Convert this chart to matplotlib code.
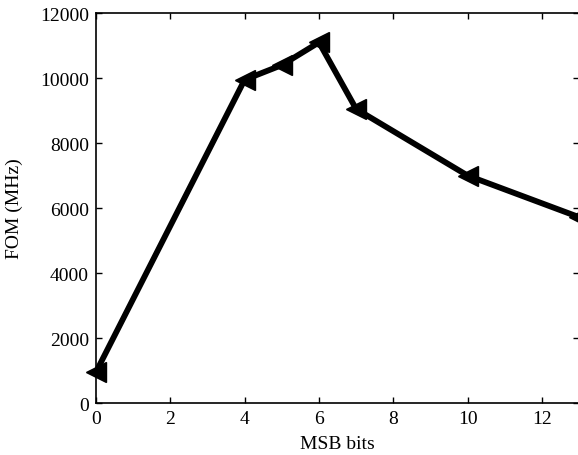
import matplotlib
matplotlib.use("Agg")
import matplotlib.pyplot as plt

msb_bits = [0, 4, 5, 6, 7, 10, 13]
fom_mhz = [950, 9950, 10400, 11100, 9050, 7000, 5720]

plt.rcParams['font.family'] = ['Liberation Serif', 'DejaVu Serif']

fig = plt.figure(figsize=(5.78, 4.56), dpi=100, facecolor="white")
ax = fig.add_axes([0.166, 0.114, 0.836, 0.855])

ax.plot(msb_bits, fom_mhz, color="black", lw=4.2, marker="<", markersize=14,
        clip_on=False, zorder=3)

ax.set_xlim(0, 13)
ax.set_ylim(0, 12000)
ax.set_xticks([0, 2, 4, 6, 8, 10, 12])
ax.set_yticks([0, 2000, 4000, 6000, 8000, 10000, 12000])
ax.tick_params(direction="in", top=True, right=True, labelsize=14, length=4, width=1, pad=5)
for s in ax.spines.values():
    s.set_linewidth(1.2)
ax.spines['right'].set_visible(False)

ax.set_xlabel("MSB bits", fontsize=14, labelpad=6)
ax.set_ylabel("FOM (MHz)", fontsize=14, labelpad=12)

fig.savefig("out.png", dpi=100)
